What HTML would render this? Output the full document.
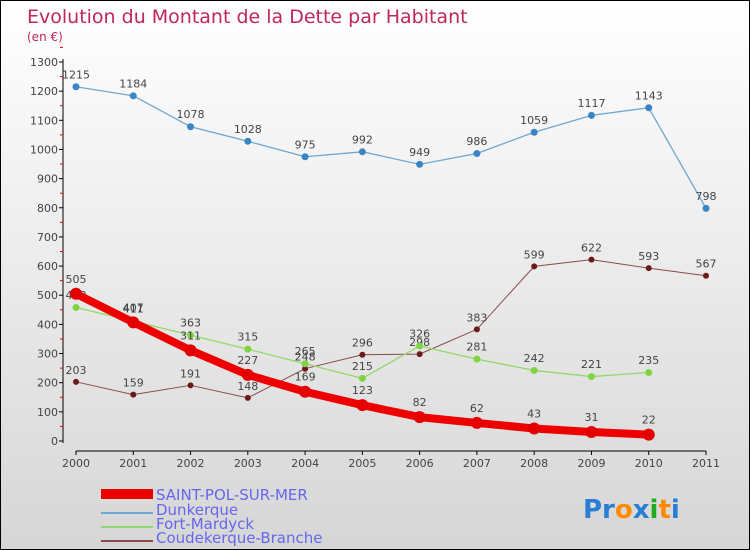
<!DOCTYPE html>
<html><head><meta charset="utf-8"><style>
body{margin:0}
#c{width:750px;height:550px;position:relative;overflow:hidden;font-family:"DejaVu Sans","Liberation Sans",sans-serif;background:linear-gradient(#ffffff 0%,#d6d6d6 100%);border:1px solid #000;box-sizing:border-box}
</style></head><body>
<div id="c">
<svg id="s" width="750" height="550">
<text x="26" y="22" font-size="19" fill="#c0265b">Evolution du Montant de la Dette par Habitant</text>
<text x="26" y="40" font-size="12" fill="#c0265b">(en €)</text>
<g id="axes"></g><g id="series"></g>
<g>
<rect x="100" y="488" width="52" height="10" fill="#ee0000"/>
<text x="155" y="499" font-size="15" fill="#6666ee">SAINT-POL-SUR-MER</text>
<rect x="100" y="511" width="52" height="2" fill="#6fa6d1"/>
<text x="155" y="514" font-size="15" fill="#6666ee">Dunkerque</text>
<rect x="100" y="525" width="52" height="2" fill="#92d86a"/>
<text x="155" y="528" font-size="15" fill="#6666ee">Fort-Mardyck</text>
<rect x="100" y="539" width="52" height="2" fill="#8a4a4a"/>
<text x="155" y="542" font-size="15" fill="#6666ee">Coudekerque-Branche</text>
</g>
<text x="582" y="517" font-size="26" font-weight="bold"><tspan fill="#2a7fd4">Pr</tspan><tspan fill="#ff8a00">o</tspan><tspan fill="#2a7fd4">x</tspan><tspan fill="#22aa22">i</tspan><tspan fill="#ff8a00">t</tspan><tspan fill="#2a7fd4">i</tspan></text>
</svg>
</div>
<script>
const years=[2000,2001,2002,2003,2004,2005,2006,2007,2008,2009,2010,2011];
const yTicks=[0,100,200,300,400,500,600,700,800,900,1000,1100,1200,1300];
const saintPol=[505,407,311,227,169,123,82,62,43,31,22,null];
const dunkerque=[1215,1184,1078,1028,975,992,949,986,1059,1117,1143,798];
const fortMardyck=[458,411,363,315,265,215,326,281,242,221,235,null];
const coudekerque=[203,159,191,148,248,296,298,383,599,622,593,567];
const NS="http://www.w3.org/2000/svg";
const x=i=>75+i*(705-75)/11;
const y=v=>440-v*(440-61)/1300;
function mk(tag,attrs,parent){const e=document.createElementNS(NS,tag);for(const k in attrs)e.setAttribute(k,attrs[k]);parent.appendChild(e);return e;}
const ax=document.getElementById('axes');
let l=mk('line',{x1:62,y1:58,x2:62,y2:442,stroke:'#000','stroke-width':1},ax);


yTicks.forEach(v=>{
 const t=mk('line',{x1:58,y1:y(v),x2:62,y2:y(v),stroke:'#000'},ax);
 
 
 const m=mk('line',{x1:59,y1:y(v+50),x2:62,y2:y(v+50),stroke:'#e00'},ax);
 
 
 const tx=mk('text',{x:57,y:y(v)+4,'font-size':11,fill:'#444','text-anchor':'end'},ax);
 tx.textContent=v;
 
 
});
l=mk('line',{x1:75,y1:450,x2:705,y2:450,stroke:'#000'},ax);


years.forEach((yr,i)=>{
 const t=mk('line',{x1:x(i),y1:450,x2:x(i),y2:454,stroke:'#000'},ax);
 
 
 const tx=mk('text',{x:x(i),y:466,'font-size':11,fill:'#444','text-anchor':'middle'},ax);
 tx.textContent=yr;
 
 
});
const sg=document.getElementById('series');
function draw(vals,color,lw,r,name,ptColor){
 const g=mk('g',{},sg);
 
 
 const pts=vals.map((v,i)=>v==null?null:x(i)+','+y(v)).filter(p=>p);
 const pl=mk('polyline',{points:pts.join(' '),fill:'none',stroke:color,'stroke-width':lw,'stroke-linejoin':'round'},g);
 
 
 vals.forEach((v,i)=>{if(v==null)return;
  const c=mk('circle',{cx:x(i),cy:y(v),r:r,fill:ptColor},g);
  
  
  const t=mk('text',{x:x(i),y:y(v)-r-5,'font-size':11,fill:'#444','text-anchor':'middle'},g);
  t.textContent=v;
  
  
 });
}
draw(coudekerque,'#8a4a4a',1,3,'coudekerque','#6b1a1a');
draw(fortMardyck,'#92d86a',1.3,3.5,'fort-mardyck','#7fd442');
draw(dunkerque,'#6fa6d1',1.3,3.5,'dunkerque','#3a86c4');
draw(saintPol,'#ee0000',8,6,'saint-pol','#e40000');
</script>
</body></html>
